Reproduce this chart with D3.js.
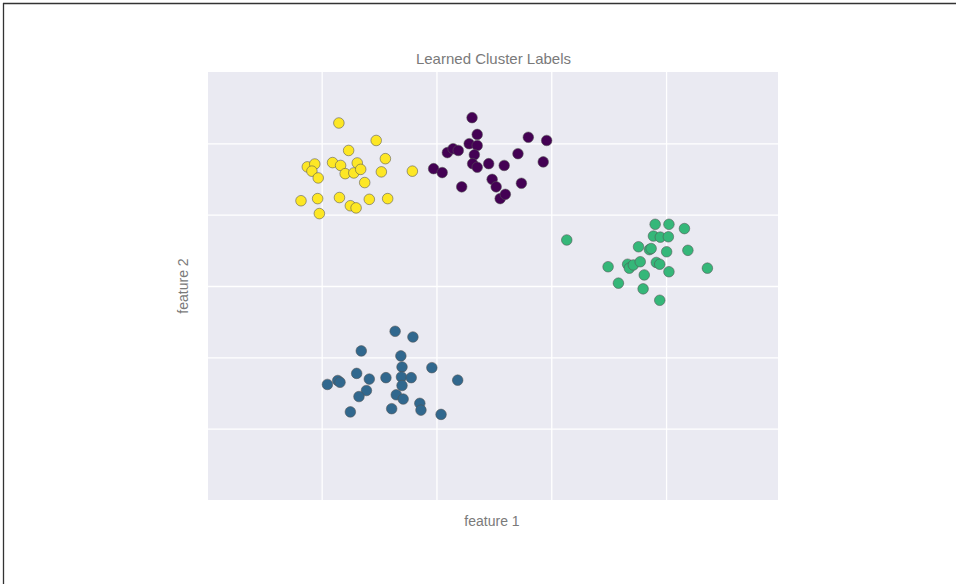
<!DOCTYPE html>
<html>
<head>
<meta charset="utf-8">
<script src="https://cdn.jsdelivr.net/npm/d3@7"></script>
<style>
  html, body { margin: 0; padding: 0; background: #fff; }
  svg { display: block; }
</style>
</head>
<body>
<svg id="chart" width="956" height="584"></svg>
<script>
// ---- data (in data units) ----
const title = "Learned Cluster Labels";
const xLabel = "feature 1";
const yLabel = "feature 2";
const xTicks = [-2, 0, 2, 4];
const yTicks = [0, 2, 4, 6, 8];
const xDomain = [-3.98, 5.95];
const yDomain = [-2, 10];

const cluster0 = [ // purple
  [0.62,8.72],[0.71,8.25],[0.57,7.99],[0.71,7.94],[0.19,7.74],[0.29,7.85],[0.38,7.80],
  [0.66,7.68],[0.63,7.43],[0.71,7.33],[-0.05,7.29],[0.10,7.18],[0.44,6.78],[0.91,7.43],
  [1.18,7.38],[0.97,6.99],[1.04,6.78],[1.11,6.45],[1.20,6.57],[1.48,6.88],[1.42,7.71],
  [1.60,8.17],[1.92,8.08],[1.86,7.48]
];
const cluster1 = [ // blue
  [-0.72,2.73],[-0.41,2.57],[-1.31,2.18],[-0.62,2.04],[-0.60,1.73],[-0.08,1.71],[-1.39,1.55],
  [-1.17,1.39],[-0.88,1.43],[-0.61,1.45],[-0.44,1.43],[-1.72,1.35],[-1.68,1.30],[-1.90,1.24],
  [0.37,1.36],[-0.60,1.21],[-1.22,1.07],[-1.35,0.90],[-0.70,0.95],[-0.58,0.83],[-0.29,0.71],
  [-0.27,0.52],[-0.78,0.56],[-1.50,0.47],[0.08,0.40]
];
const cluster2 = [ // green
  [2.27,5.29],[3.81,5.73],[4.05,5.73],[4.32,5.61],[3.78,5.40],[3.90,5.37],[4.04,5.38],
  [3.52,5.10],[3.71,5.02],[3.74,5.05],[4.01,4.96],[4.38,5.00],[2.99,4.54],[3.33,4.61],
  [3.36,4.50],[3.43,4.59],[3.55,4.68],[3.83,4.66],[3.89,4.61],[4.05,4.40],[4.72,4.50],
  [3.62,4.31],[3.17,4.08],[3.60,3.92],[3.89,3.60]
];
const cluster3 = [ // yellow
  [-1.70,8.57],[-1.05,8.08],[-1.53,7.80],[-0.89,7.57],[-2.25,7.34],[-2.12,7.42],[-2.17,7.22],
  [-2.06,7.03],[-1.81,7.46],[-1.67,7.38],[-1.59,7.15],[-1.44,7.17],[-1.38,7.45],[-1.32,7.27],
  [-1.25,6.90],[-0.96,7.20],[-0.42,7.22],[-2.36,6.39],[-2.07,6.45],[-1.69,6.48],[-1.50,6.25],
  [-1.40,6.19],[-1.17,6.43],[-0.85,6.45],[-2.04,6.03]
];
const clusters = [cluster0, cluster1, cluster2, cluster3];

// ---- drawing ----
const svg = d3.select("#chart");
const W = 956, H = 584;
const plot = {left: 208, right: 778, top: 72, bottom: 500};

// outer frame (top and left edges)
svg.append("line").attr("x1", 3).attr("x2", W).attr("y1", 3.5).attr("y2", 3.5)
  .attr("stroke", "#333").attr("stroke-width", 1.3);
svg.append("line").attr("x1", 3.5).attr("x2", 3.5).attr("y1", 3).attr("y2", H)
  .attr("stroke", "#333").attr("stroke-width", 1.3);

const x = d3.scaleLinear().domain(xDomain).range([plot.left, plot.right]);
const y = d3.scaleLinear().domain(yDomain).range([plot.bottom, plot.top]);

svg.append("rect")
  .attr("x", plot.left).attr("y", plot.top)
  .attr("width", plot.right - plot.left).attr("height", plot.bottom - plot.top)
  .attr("fill", "#eaeaf2");

// grid via axes with no labels
const gx = svg.append("g").attr("transform", `translate(0,${plot.bottom})`)
  .call(d3.axisBottom(x).tickValues(xTicks).tickSize(-(plot.bottom - plot.top)).tickFormat(""));
const gy = svg.append("g").attr("transform", `translate(${plot.left},0)`)
  .call(d3.axisLeft(y).tickValues(yTicks).tickSize(-(plot.right - plot.left)).tickFormat(""));
[gx, gy].forEach(g => {
  g.select(".domain").remove();
  g.selectAll("line").attr("stroke", "#fff").attr("stroke-width", 1.3);
});

const color = d3.scaleOrdinal().domain([0,1,2,3])
  .range([0,1,2,3].map(i => d3.interpolateViridis(i / 3)));

const pts = [];
clusters.forEach((c, i) => c.forEach(p => pts.push({x: p[0], y: p[1], label: i})));

svg.append("g").selectAll("circle").data(pts).join("circle")
  .attr("cx", d => x(d.x)).attr("cy", d => y(d.y)).attr("r", 5.3)
  .attr("fill", d => color(d.label))
  .attr("stroke", "#555").attr("stroke-opacity", 0.7).attr("stroke-width", 0.8);

const font = "'Liberation Sans', Arial, sans-serif";
svg.append("text").attr("x", (plot.left + plot.right) / 2 + 0.5).attr("y", 64)
  .attr("text-anchor", "middle").attr("font-family", font).attr("font-size", 15)
  .attr("fill", "#7a7a7a").text(title);
svg.append("text").attr("x", (plot.left + plot.right) / 2 - 1).attr("y", 526)
  .attr("text-anchor", "middle").attr("font-family", font).attr("font-size", 14)
  .attr("fill", "#7a7a7a").text(xLabel);
svg.append("text")
  .attr("transform", `translate(188,${(plot.top + plot.bottom) / 2}) rotate(-90)`)
  .attr("text-anchor", "middle").attr("font-family", font).attr("font-size", 14)
  .attr("fill", "#7a7a7a").text(yLabel);
</script>
</body>
</html>
